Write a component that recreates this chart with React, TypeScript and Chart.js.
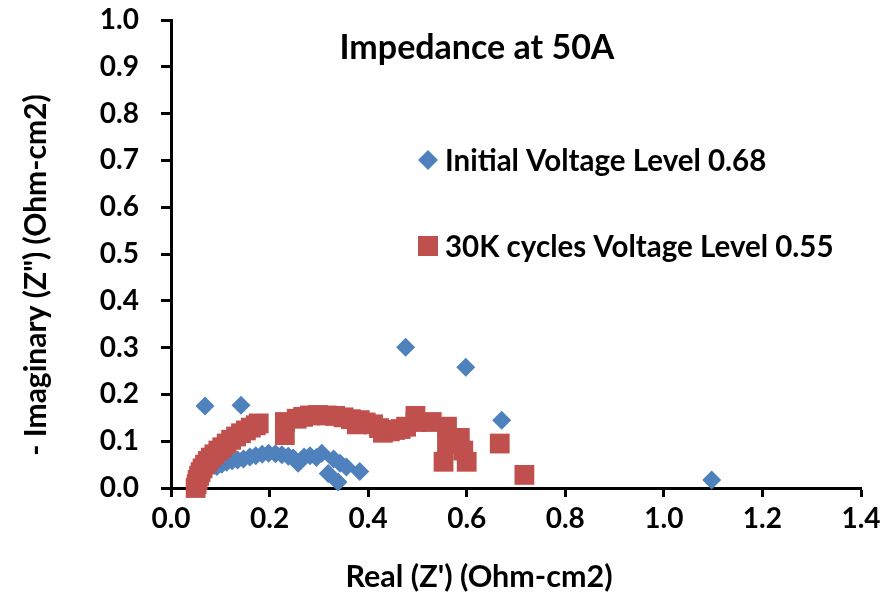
import React, { useEffect, useRef } from "react";
import { Chart, registerables } from "chart.js";

Chart.register(...registerables);

// Nyquist impedance data, Real Z' vs -Imaginary Z'' (Ohm-cm2)
const initialReal = [
  0.069, 0.142, 0.093, 0.103, 0.113, 0.124, 0.135, 0.147, 0.16, 0.172, 0.185,
  0.198, 0.212, 0.225, 0.238, 0.248, 0.258, 0.27, 0.282, 0.295, 0.306, 0.319,
  0.33, 0.343, 0.339, 0.356, 0.383, 0.476, 0.598, 0.671, 1.097,
];
const initialImag = [
  0.175, 0.177, 0.046, 0.051, 0.055, 0.058, 0.06, 0.062, 0.066, 0.069, 0.072,
  0.074, 0.073, 0.071, 0.068, 0.064, 0.053, 0.066, 0.069, 0.065, 0.074, 0.031,
  0.062, 0.053, 0.013, 0.045, 0.035, 0.301, 0.258, 0.145, 0.017,
];

const cycledReal = [
  0.05, 0.052, 0.054, 0.057, 0.06, 0.064, 0.069, 0.075, 0.081, 0.088, 0.096,
  0.104, 0.113, 0.122, 0.132, 0.142, 0.152, 0.162, 0.172, 0.178, 0.231, 0.231,
  0.255, 0.268, 0.282, 0.298, 0.316, 0.333, 0.35, 0.365, 0.377, 0.383, 0.395,
  0.41, 0.422, 0.43, 0.444, 0.455, 0.466, 0.477, 0.496, 0.496, 0.529, 0.56,
  0.56, 0.586, 0.593, 0.553, 0.6, 0.667, 0.717,
];
const cycledImag = [
  0.0, 0.008, 0.017, 0.026, 0.034, 0.042, 0.05, 0.058, 0.065, 0.072, 0.08,
  0.087, 0.095, 0.103, 0.11, 0.117, 0.123, 0.129, 0.134, 0.138, 0.141, 0.113,
  0.148, 0.152, 0.155, 0.156, 0.155, 0.154, 0.151, 0.147, 0.136, 0.145, 0.14,
  0.136, 0.128, 0.118, 0.121, 0.124, 0.126, 0.131, 0.154, 0.141, 0.141, 0.131,
  0.094, 0.107, 0.08, 0.056, 0.056, 0.095, 0.028,
];

const seriesNames = ["Initial Voltage Level 0.68", "30K cycles Voltage Level 0.55"];
const seriesColors = ["#4F81BD", "#C0504D"];
const chartTitle = "Impedance at 50A";
const xTitle = "Real (Z') (Ohm-cm2)";
const yTitle = '- Imaginary (Z") (Ohm-cm2)';
const xRange = [0, 1.4];
const yRange = [0, 1.0];
const xStep = 0.2;
const yStep = 0.1;

const FONT = "Lato, 'Open Sans', sans-serif";

const toPoints = (xs: number[], ys: number[]) => xs.map((x, i) => ({ x, y: ys[i] }));

// Draws the in-plot title, the legend block and both axis titles
const annotations = {
  id: "annotations",
  afterDraw(chart: Chart) {
    const ctx = chart.ctx;
    ctx.save();
    ctx.fillStyle = "#000";
    ctx.textBaseline = "middle";

    ctx.font = `bold 34px ${FONT}`;
    ctx.textAlign = "center";
    ctx.fillText(chartTitle, 477, 48);

    // legend
    ctx.font = `bold 29.5px ${FONT}`;
    ctx.textAlign = "left";
    const rows = [160, 246];
    rows.forEach((cy, i) => {
      const cx = 428;
      ctx.fillStyle = seriesColors[i];
      ctx.beginPath();
      if (i === 0) {
        ctx.moveTo(cx - 10, cy);
        ctx.lineTo(cx, cy - 10);
        ctx.lineTo(cx + 10, cy);
        ctx.lineTo(cx, cy + 10);
        ctx.closePath();
      } else {
        ctx.rect(cx - 10, cy - 10, 20, 20);
      }
      ctx.fill();
      ctx.fillStyle = "#000";
      ctx.fillText(seriesNames[i], 445, cy + 1);
    });

    // axis titles
    ctx.font = `bold 30.5px ${FONT}`;
    ctx.textAlign = "center";
    ctx.fillText(xTitle, 479, 577);
    ctx.translate(36, 275);
    ctx.rotate(-Math.PI / 2);
    ctx.font = `bold 30px ${FONT}`;
    ctx.fillText(yTitle, 0, 0);
    ctx.restore();
  },
};

export default function App() {
  const canvasRef = useRef<HTMLCanvasElement | null>(null);

  useEffect(() => {
    const canvas = canvasRef.current;
    if (!canvas) return;
    const tickFont = { family: FONT, size: 28, weight: "bold" as const };
    const chart = new Chart(canvas, {
      type: "scatter",
      data: {
        datasets: [
          {
            label: seriesNames[0],
            data: toPoints(initialReal, initialImag),
            pointStyle: "rectRot",
            pointRadius: 9.5,
            pointBorderWidth: 0,
            backgroundColor: seriesColors[0],
            borderColor: seriesColors[0],
            order: 2,
            clip: false,
          },
          {
            label: seriesNames[1],
            data: toPoints(cycledReal, cycledImag),
            pointStyle: "rect",
            pointRadius: 14,
            pointBorderWidth: 0,
            backgroundColor: seriesColors[1],
            borderColor: seriesColors[1],
            order: 1,
            clip: false,
          },
        ],
      },
      options: {
        responsive: false,
        animation: false,
        events: [],
        layout: { padding: { top: 20, right: 20, left: 0, bottom: 0 } },
        plugins: {
          legend: { display: false },
          tooltip: { enabled: false },
          title: { display: false },
        },
        scales: {
          x: {
            type: "linear",
            min: xRange[0],
            max: xRange[1],
            afterFit(scale: any) {
              scale.height = 106;
              scale.paddingLeft = 0;
              scale.paddingRight = 0;
            },
            afterBuildTicks(scale: any) {
              const t = [];
              for (let v = xRange[0]; v <= xRange[1] + 1e-9; v += xStep) t.push({ value: +v.toFixed(2) });
              scale.ticks = t;
            },
            ticks: {
              font: tickFont,
              color: "#000",
              padding: 5,
              maxRotation: 0,
              callback: (v: any) => Number(v).toFixed(1),
            },
            grid: {
              drawOnChartArea: false,
              drawTicks: true,
              tickLength: 9,
              tickWidth: 3,
              tickColor: "#000",
            },
            border: { display: true, color: "#000", width: 3 },
          },
          y: {
            type: "linear",
            min: yRange[0],
            max: yRange[1],
            afterFit(scale: any) {
              scale.width = 171;
              scale.paddingTop = 0;
              scale.paddingBottom = 0;
            },
            afterBuildTicks(scale: any) {
              const t = [];
              for (let v = yRange[0]; v <= yRange[1] + 1e-9; v += yStep) t.push({ value: +v.toFixed(2) });
              scale.ticks = t;
            },
            ticks: {
              font: tickFont,
              color: "#000",
              padding: 22,
              callback: (v: any) => Number(v).toFixed(1),
            },
            grid: {
              drawOnChartArea: false,
              drawTicks: true,
              tickLength: 10,
              tickWidth: 3,
              tickColor: "#000",
            },
            border: { display: true, color: "#000", width: 3 },
          },
        },
      },
      plugins: [annotations],
    });
    return () => chart.destroy();
  }, []);

  return (
    <div style={{ position: "fixed", left: 0, top: 0, width: 881, height: 594, background: "#fff" }}>
      <canvas ref={canvasRef} width={881} height={594} style={{ display: "block" }} />
    </div>
  );
}
